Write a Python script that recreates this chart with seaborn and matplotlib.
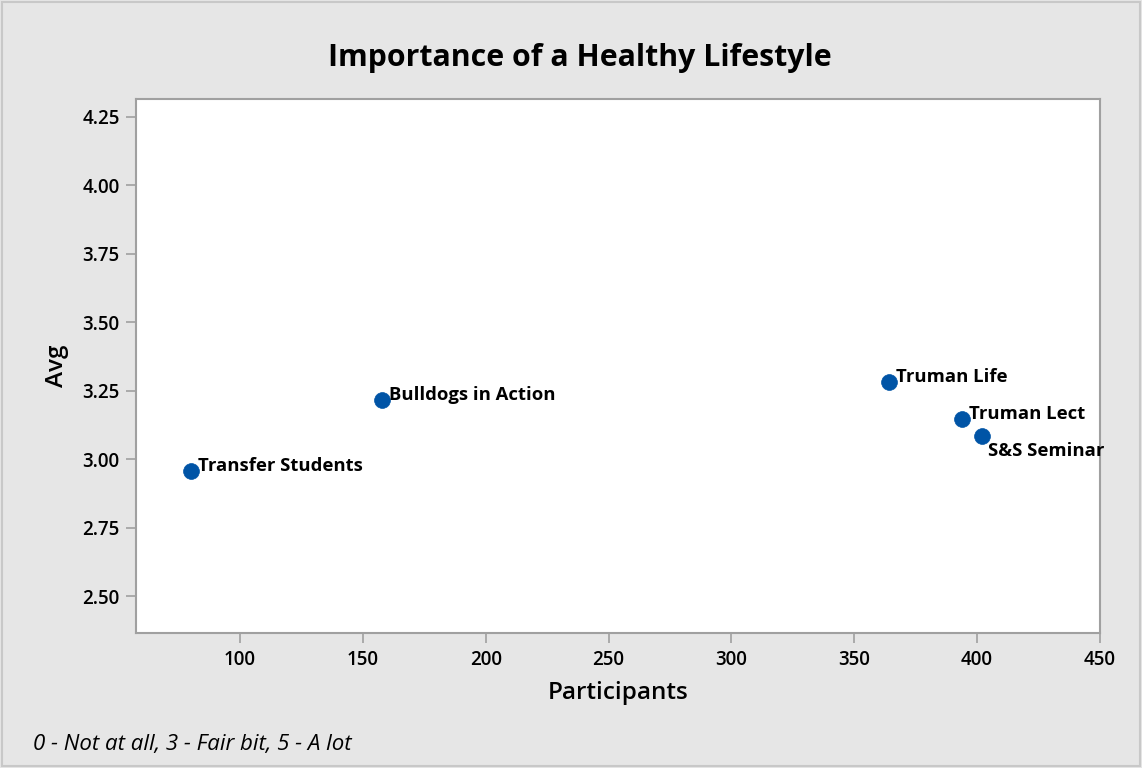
import pandas as pd
import matplotlib.pyplot as plt
import seaborn as sns

# Dados
groups = ['Transfer Students', 'Bulldogs in Action', 'Truman Life', 'Truman Lect', 'S&S Seminar']
participants = [80, 158, 364, 394, 402]
avg = [2.957, 3.216, 3.283, 3.146, 3.085]
x_ticks = [100, 150, 200, 250, 300, 350, 400, 450]
y_ticks = [2.50, 2.75, 3.00, 3.25, 3.50, 3.75, 4.00, 4.25]

df = pd.DataFrame({'Group': groups, 'Participants': participants, 'Avg': avg})

sns.set_style('white')
plt.rcParams['font.family'] = ['Open Sans', 'DejaVu Sans']
plt.rcParams['text.color'] = 'black'
plt.rcParams['axes.labelcolor'] = 'black'
plt.rcParams['xtick.color'] = 'black'
plt.rcParams['ytick.color'] = 'black'

fig = plt.figure(figsize=(11.42, 7.68), dpi=100, facecolor='#E6E6E6')
fig.patches.append(plt.Rectangle((0.002, 0.002), 0.996, 0.996, transform=fig.transFigure,
                                 fill=False, edgecolor='#C8C8C8', linewidth=1.5))
ax = fig.add_axes([0.1195, 0.1758, 0.8437, 0.6953])
ax.set_facecolor('white')

sns.scatterplot(data=df, x='Participants', y='Avg', ax=ax, color='#0054A6',
                s=130, edgecolor='#0054A6', linewidth=0.5, zorder=3)

offsets = {'S&S Seminar': (4.5, -10.5)}
for g, xv, yv in zip(groups, participants, avg):
    dx, dy = offsets.get(g, (5, 3.5))
    ax.annotate(g, (xv, yv), xytext=(dx, dy), textcoords='offset points',
                fontsize=13.3, fontweight='bold', color='black', va='center', ha='left',
                zorder=6, annotation_clip=False)

ax.set_xlim(57.9, 450)
ax.set_ylim(2.366, 4.315)
ax.set_xticks(x_ticks)
ax.set_yticks(y_ticks)
ax.set_yticklabels([f'{v:.2f}' for v in y_ticks])
ax.tick_params(axis='both', which='major', bottom=True, left=True, direction='out',
               length=7, width=1.2, color='#A0A0A0', labelcolor='black',
               labelsize=13.5, pad=5)
for lbl in ax.get_xticklabels() + ax.get_yticklabels():
    lbl.set_fontweight('semibold')
for sp in ax.spines.values():
    sp.set_color('#A0A0A0')
    sp.set_linewidth(1.5)
    sp.set_zorder(1)

ax.set_xlabel('Participants', fontsize=17.5, fontweight='semibold', labelpad=8)
ax.set_ylabel('Avg', fontsize=17.5, fontweight='semibold', labelpad=10)
fig.text(0.508, 0.925, 'Importance of a Healthy Lifestyle', ha='center', va='center',
         fontsize=21.8, fontweight='bold')
fig.text(0.029, 0.031, '0 - Not at all, 3 - Fair bit, 5 - A lot', ha='left', va='center',
         fontsize=16, style='italic')

plt.savefig('out.png', dpi=100, facecolor=fig.get_facecolor())
